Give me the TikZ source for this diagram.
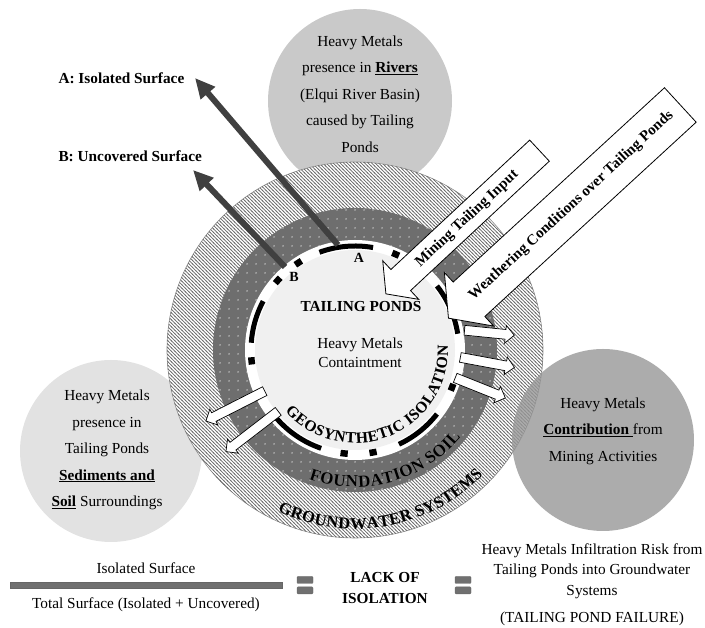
\documentclass[tikz,border=0pt]{standalone}
\usepackage{fontspec}
\setmainfont{Liberation Serif}
\usepackage{tikz}
\usetikzlibrary{shapes.arrows,arrows.meta,positioning,decorations.text,patterns}
\definecolor{RiverGray}{HTML}{C9C9C9}
\definecolor{SedimentGray}{HTML}{E2E2E2}
\definecolor{MiningGray}{HTML}{979797}
\definecolor{HatchGray}{HTML}{6A6A6A}
\definecolor{SoilGray}{HTML}{6E6E6E}
\definecolor{CoreGray}{HTML}{F0F0F0}
\definecolor{ArrowDark}{HTML}{404040}
\definecolor{BarGray}{HTML}{707070}
\pgfdeclarepatternformonly{ringhatch}{\pgfqpoint{-1pt}{-1pt}}{\pgfqpoint{4.5pt}{4.5pt}}{\pgfqpoint{3.5pt}{3.5pt}}{%
  \pgfsetlinewidth{0.7pt}%
  \pgfpathmoveto{\pgfqpoint{-0.5pt}{4pt}}%
  \pgfpathlineto{\pgfqpoint{4pt}{-0.5pt}}%
  \pgfusepath{stroke}}
\pgfdeclarepatternformonly{soildots}{\pgfqpoint{0pt}{0pt}}{\pgfqpoint{9pt}{9pt}}{\pgfqpoint{9pt}{9pt}}{%
  \pgfpathcircle{\pgfqpoint{4.5pt}{4.5pt}}{0.75pt}%
  \pgfusepath{fill}}
\tikzset{
  bubble/.style={circle,inner sep=0pt,draw=none},
  bubbletext/.style={align=center,font=\fontsize{15.3}{26.5}\selectfont},
  inflow/.style={single arrow,draw=black,fill=white,line width=0.8pt,
                 inner xsep=0pt,text height=11pt,text depth=3pt,
                 single arrow tip angle=105,
                 font=\bfseries\fontsize{15}{15}\selectfont},
  leak/.style={single arrow,draw=black,fill=white,line width=0.7pt,
               inner xsep=0pt,inner ysep=4.5pt,single arrow head extend=4pt},
  surfarr/.style={-{Triangle[length=20pt,width=18pt]},line width=6pt,draw=ArrowDark},
  liner/.style={line width=5pt,black},
  fracbar/.style={rectangle,fill=BarGray,draw=black!60,line width=0.4pt,
                  minimum width=272pt,minimum height=6pt,inner sep=0pt},
  eqbar/.style={rectangle,rounded corners=1pt,fill=BarGray,draw=black!60,
                line width=0.4pt,minimum width=16pt,minimum height=7pt,inner sep=0pt}
}

\begin{document}
\begin{tikzpicture}[x=1pt,y=1pt,every node/.style={font=\fontsize{15.3}{19}\selectfont}]
  \useasboundingbox (0,0) rectangle (705,628);
  \coordinate (pond) at (355,278);

  % bubbles behind the rings
  \node[bubble,fill=RiverGray,minimum size=184pt] (rivers) at (360,527) {};
  \node[bubble,fill=SedimentGray,minimum size=182pt] (sediments) at (111,177) {};

  % rings
  \filldraw[fill=white,draw=black!45,line width=0.6pt] (pond) circle[radius=188];
  \fill[pattern=ringhatch,pattern color=HatchGray] (pond) circle[radius=188];
  \fill[SoilGray] (pond) circle[radius=142];
  \fill[pattern=soildots,pattern color=white] (pond) circle[radius=142];
  \fill[white] (pond) circle[radius=110];
  \fill[CoreGray] (pond) circle[radius=100];

  % liner pieces
  \foreach \a/\b in {80/110,152/176,221/251,295/322,9/38}
    \draw[liner] ([shift={(\a:104)}]pond) arc[start angle=\a,end angle=\b,radius=104];
  \foreach \a in {67,123,138,186,264,280,339}
    \draw[liner,line width=6.5pt] ([shift={(\a-2:104)}]pond) arc[start angle=\a-2,end angle=\a+2,radius=104];

  % curved ring names
  \foreach \dx/\tcol in {1.5/black!35,0/black}{
    \begin{scope}[shift={(\dx,-\dx)}]
      \path[decorate,decoration={text along path,text align=center,raise=-5pt,
        text={|\color{\tcol}\bfseries\fontsize{15.5}{15.5}\selectfont|GEOSYNTHETIC ISOLATION}}]
        ([shift={(212:88)}]pond) arc[start angle=212,end angle=372,radius=88];
      \path[decorate,decoration={text along path,text align=center,raise=-6pt,
        text={|\color{\tcol}\bfseries\fontsize{17}{17}\selectfont|FOUNDATION SOIL}}]
        ([shift={(240:131)}]pond) arc[start angle=240,end angle=331,radius=131];
      \path[decorate,decoration={text along path,text align=center,raise=-6pt,
        text={|\color{\tcol}\bfseries\fontsize{16.4}{16.4}\selectfont|GROUNDWATER SYSTEMS}}]
        ([shift={(238:173)}]pond) arc[start angle=238,end angle=322,radius=173];
    \end{scope}
  }

  \node[font=\bfseries\fontsize{15.3}{15.3}\selectfont] (ponds) at (361,321) {TAILING PONDS};
  \node[align=center] (contain) at (360,275) {Heavy Metals\\Containtment};
  \node[font=\bfseries\fontsize{14}{14}\selectfont] (lblA) at (359,370) {A};
  \node[font=\bfseries\fontsize{14}{14}\selectfont] (lblB) at (294,351) {B};

  % leaks out of the liner
  \node[leak,minimum height=50pt,rotate=-5.7] (leak1) at (487,295.5) {};
  \node[leak,minimum height=55pt,rotate=-10.5] (leak2) at (485,266) {};
  \node[leak,minimum height=54pt,rotate=-21.8] (leak3) at (478,241) {};
  \node[leak,minimum height=66pt,rotate=207] (leak4) at (237.5,223) {};
  \node[leak,minimum height=66pt,rotate=217.6] (leak5) at (254,198) {};

  % inputs
  \node[inflow,minimum height=210pt,inner ysep=7pt,single arrow head extend=12pt,
        rotate=43,shape border rotate=180] (tailinput) at (466.75,409.5) {Mining Tailing Input};
  \node[inflow,minimum height=315pt,inner ysep=16pt,single arrow head extend=13pt,
        rotate=42.6,shape border rotate=180] (weather) at (571,422.5) {Weathering Conditions over Tailing Ponds};

  % contribution bubble
  \node[bubble,fill=MiningGray,fill opacity=0.8,minimum size=182pt] (mining) at (603,188) {};

  \node[bubbletext] (riverstext) at (360,534)
    {Heavy Metals\\presence in \underline{\textbf{Rivers}}\\(Elqui River Basin)\\caused by Tailing\\Ponds};
  \node[bubbletext] (sedtext) at (107,178)
    {Heavy Metals\\presence in\\Tailing Ponds\\\underline{\textbf{Sediments and}}\\\underline{\textbf{Soil}} Surroundings};
  \node[bubbletext] (miningtext) at (603,197)
    {Heavy Metals\\\underline{\textbf{Contribution}\ }from\\Mining Activities};

  % surfaces
  \node[anchor=west,font=\bfseries\fontsize{15.3}{15.3}\selectfont] (isolated) at (55,550) {A: Isolated Surface};
  \node[anchor=west,font=\bfseries\fontsize{15.3}{15.3}\selectfont] (uncovered) at (55,472) {B: Uncovered Surface};
  \coordinate (aroot) at (338,383);
  \coordinate (atip) at (195,550);
  \coordinate (broot) at (285,361);
  \coordinate (btip) at (193,458);
  \draw[surfarr] (aroot) -- (atip);
  \draw[surfarr] (broot) -- (btip);

  % bottom relation
  \node[fracbar] (ratio) at (146,43) {};
  \node[above=5pt of ratio] (isotext) {Isolated Surface};
  \node[below=6pt of ratio] (totaltext) {Total Surface (Isolated + Uncovered)};
  \node[eqbar] (eq1top) at (305,48) {};
  \node[eqbar,below=3pt of eq1top] (eq1bot) {};
  \node[align=center,font=\bfseries\fontsize{15.3}{21}\selectfont] (lack) at (385,40) {LACK OF\\ISOLATION};
  \node[eqbar] (eq2top) at (463,48) {};
  \node[eqbar,below=3pt of eq2top] (eq2bot) {};
  \node[align=center,font=\fontsize{15.3}{20.5}\selectfont] (risk) at (592,57)
    {Heavy Metals Infiltration Risk from\\Tailing Ponds into Groundwater\\Systems};
  \node (failure) at (592,9) {(TAILING POND FAILURE)};
\end{tikzpicture}
\end{document}
